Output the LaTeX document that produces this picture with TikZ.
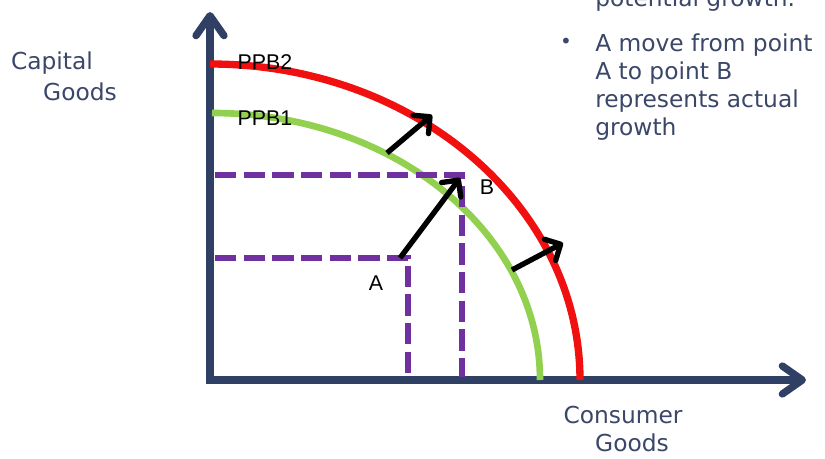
\documentclass[tikz,border=0pt]{standalone}
\usepackage{fontspec}
\setmainfont{DejaVu Sans}
\newfontfamily\labelfont{Liberation Sans}
\usetikzlibrary{arrows.meta}
\definecolor{axisblue}{HTML}{2F4064}
\definecolor{textgray}{HTML}{3B4768}
\definecolor{ppbred}{HTML}{F01010}
\definecolor{ppbgreen}{HTML}{92D050}
\definecolor{guidepurple}{HTML}{7030A0}

\begin{document}
\begin{tikzpicture}[x=0.75pt,y=0.75pt,
  axisline/.style={draw=axisblue,line width=5.5pt,
    -{Straight Barb[length=15pt,width=21pt,line cap=round,line join=round]}},
  ppbcurve/.style={line width=#1},
  guideline/.style={draw=guidepurple,line width=5pt,dash pattern=on 16pt off 5.5pt},
  movearrow/.style={draw=black,line width=4pt,
    -{Straight Barb[length=9pt,width=18pt,line cap=round,line join=round]}},
  ptlabel/.style={font=\labelfont\fontsize{16}{19}\selectfont,inner sep=0pt},
  greytext/.style={text=textgray,font=\fontsize{17.5}{21}\selectfont,inner sep=0pt}]
  \useasboundingbox (0,0) rectangle (825,458);
  % axes
  \coordinate (ybot) at (210,74);
  \coordinate (ytip) at (210,446);
  \coordinate (xleft) at (207,78);
  \coordinate (xtip) at (806,78);
  \draw[axisline] (ybot) -- (ytip);
  \draw[axisline] (xleft) -- (xtip);
  % the two boundaries
  \draw[ppbcurve=5.5pt,ppbred] (210,394) arc[start angle=90,end angle=0,x radius=370,y radius=316];
  \draw[ppbcurve=5pt,ppbgreen] (212,345) arc[start angle=90,end angle=0,x radius=328,y radius=267];
  % dashed guides to A and B
  \draw[guideline] (215,283) -- (462,283) -- (462,81);
  \draw[guideline] (215,200) -- (408,200) -- (408,83);
  % movements
  \coordinate (ptA) at (400,200);
  \coordinate (ptB) at (460,280);
  \coordinate (up1) at (387,305);
  \coordinate (up2) at (432,343);
  \coordinate (out1) at (512,188);
  \coordinate (out2) at (563,215);
  \draw[movearrow] (ptA) -- (ptB);
  \draw[movearrow] (up1) -- (up2);
  \draw[movearrow] (out1) -- (out2);
  % labels
  \node[ptlabel] (labA) at (376,175) {A};
  \node[ptlabel] (labB) at (487,271) {B};
  \node[ptlabel] (labppb2) at (265,396) {PPB2};
  \node[ptlabel] (labppb1) at (265,340) {PPB1};
  \node[greytext] (capital) at (52,395) {Capital};
  \node[greytext] (capgoods) at (80,366) {Goods};
  \node[greytext] (consumer) at (623,43) {Consumer};
  \node[greytext] (congoods) at (632,15) {Goods};
  \node[greytext,anchor=base west] (prevnote) at (595,451) {potential growth.};
  \node[text=textgray,font=\fontsize{15}{17}\selectfont,inner sep=0pt] (bullet) at (566,415) {•};
  \node[greytext,anchor=north west,align=left] (note) at (595,424)
    {A move from point\\A to point B\\represents actual\\growth};
\end{tikzpicture}
\end{document}
